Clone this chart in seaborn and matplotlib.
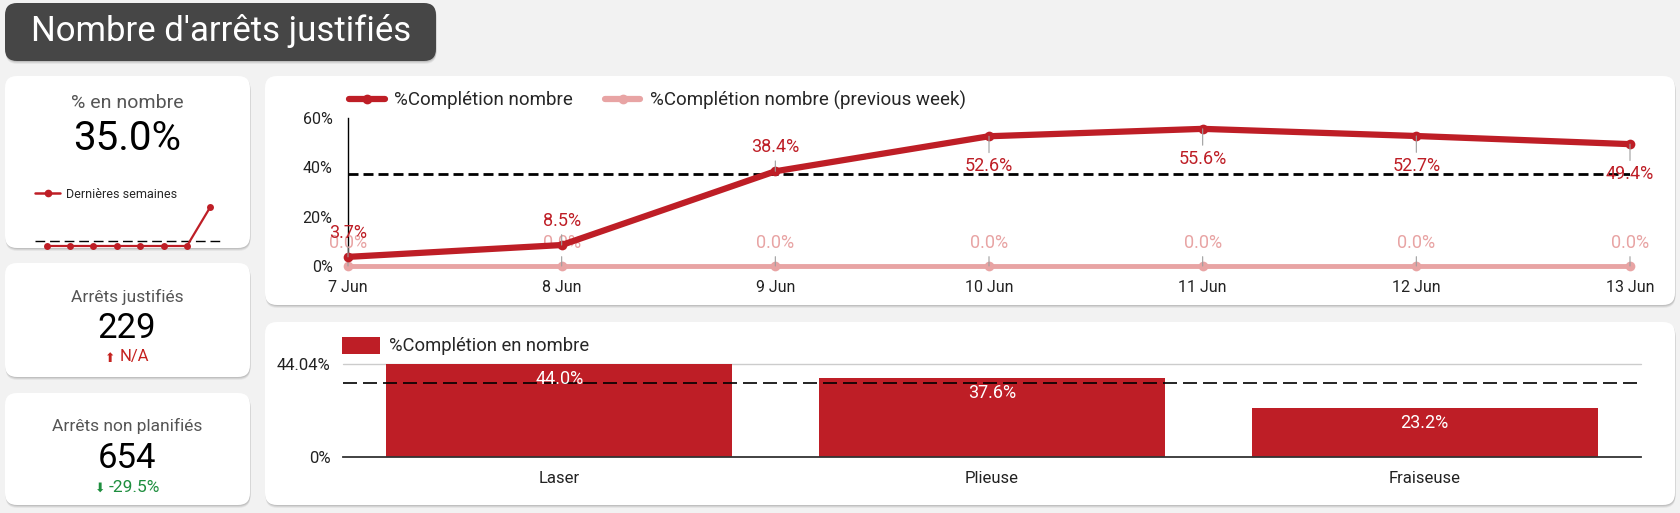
import numpy as np
import seaborn as sns
import matplotlib.pyplot as plt
from matplotlib.patches import FancyBboxPatch, Patch
from matplotlib.lines import Line2D

# Data
days = ['7 Jun', '8 Jun', '9 Jun', '10 Jun', '11 Jun', '12 Jun', '13 Jun']
completion = [3.7, 8.5, 38.4, 52.6, 55.6, 52.7, 49.4]
completion_prev = [0.0, 0.0, 0.0, 0.0, 0.0, 0.0, 0.0]

machines = ['Laser', 'Plieuse', 'Fraiseuse']
machine_completion = [44.04, 37.6, 23.2]

spark_values = [0.0, 0.0, 0.0, 0.0, 0.0, 0.0, 0.0, 35.0]

pct_nombre = 35.0
arrets_justifies = 229
arrets_non_planifies = 654
delta_non_planifies = -29.5

RED = '#be1e26'
PINK = '#e8a4a4'
W, H = 1680, 513

sns.set_theme(style='white')
plt.rcParams['font.family'] = ['Roboto', 'DejaVu Sans']


def fr(x0, y0, x1, y1):
    # pixel box (top-down) -> figure fraction rect
    return [x0 / W, 1 - y1 / H, (x1 - x0) / W, (y1 - y0) / H]


fig = plt.figure(figsize=(W / 100, H / 100), dpi=100, facecolor='#f2f2f2')

bg = fig.add_axes([0, 0, 1, 1], zorder=0)
bg.set_xlim(0, W)
bg.set_ylim(H, 0)
bg.axis('off')


def card(x0, y0, x1, y1, fc='white', r=12, shadow=True):
    if shadow:
        for dy, a in [(3, 0.05), (2, 0.07), (1, 0.09)]:
            bg.add_patch(FancyBboxPatch((x0 + 0.5, y0 + dy), x1 - x0, y1 - y0,
                                        boxstyle=f'round,pad=0,rounding_size={r}',
                                        fc='black', ec='none', alpha=a))
    bg.add_patch(FancyBboxPatch((x0, y0), x1 - x0, y1 - y0,
                                boxstyle=f'round,pad=0,rounding_size={r}',
                                fc=fc, ec='none'))


# Title
card(5, 3, 436, 61, fc='#464646', r=12)
bg.text(221, 31, "Nombre d'arrêts justifiés", color='white', fontsize=25,
        ha='center', va='center')

# KPI cards
card(5, 76, 250, 248)
card(5, 263, 250, 377)
card(5, 393, 250, 505)
card(265, 76, 1675, 305)
card(265, 322, 1675, 505)

bg.text(127, 103, '% en nombre', color='#555555', fontsize=14, ha='center', va='center')
bg.text(127, 138, f'{pct_nombre:.1f}%', color='black', fontsize=29, ha='center', va='center')

bg.text(127, 297, 'Arrêts justifiés', color='#555555', fontsize=12.5, ha='center', va='center')
bg.text(127, 328, f'{arrets_justifies}', color='black', fontsize=25, ha='center', va='center')
bg.text(110, 358, '⬆', color='#c5221f', fontsize=9, ha='center', va='center', family='DejaVu Sans')
bg.text(120, 357, 'N/A', color='#c5221f', fontsize=12, ha='left', va='center')

bg.text(127, 426, 'Arrêts non planifiés', color='#555555', fontsize=12.5, ha='center', va='center')
bg.text(127, 458, f'{arrets_non_planifies}', color='black', fontsize=25, ha='center', va='center')
bg.text(100, 488, '⬇', color='#1e8e3e', fontsize=9, ha='center', va='center', family='DejaVu Sans')
bg.text(109, 487, f'{delta_non_planifies:.1f}%', color='#1e8e3e', fontsize=12.5, ha='left', va='center')

# Sparkline in first card
ax3 = fig.add_axes(fr(35, 207, 222, 246), zorder=2)
ax3.patch.set_alpha(0)
sns.lineplot(x=np.arange(len(spark_values)), y=spark_values, ax=ax3, color=RED, lw=1.6,
             marker='o', markersize=5, markeredgewidth=0, clip_on=False)
ax3.axhline(np.mean(spark_values), color='black', lw=1, ls=(0, (7, 3.5)), zorder=1)
ax3.set_xlim(-0.5, len(spark_values) - 0.5)
ax3.set_ylim(0, max(spark_values))
ax3.axis('off')
ax3.legend(handles=[Line2D([], [], color=RED, lw=1.8, marker='o', markersize=4.5)],
           labels=['Dernières semaines'], loc='center left',
           bbox_to_anchor=(35 / W, 1 - 194 / H), bbox_transform=fig.transFigure,
           fontsize=9, handlelength=2.0, handletextpad=0.5, frameon=False,
           borderpad=0, borderaxespad=0)

# Line chart
ax1 = fig.add_axes(fr(348, 118, 1630, 266), zorder=2)
ax1.patch.set_alpha(0)
x = np.arange(len(days))
sns.lineplot(x=x, y=completion_prev, ax=ax1, color=PINK, lw=3.5, marker='o',
             markersize=7, markeredgewidth=0, clip_on=False, zorder=3)
sns.lineplot(x=x, y=completion, ax=ax1, color=RED, lw=4.5, marker='o',
             markersize=7, markeredgewidth=0, clip_on=False, zorder=4)
ax1.axhline(np.mean(completion), color='black', lw=2, ls=(0, (3.6, 1.8)), zorder=2)
ax1.set_xlim(0, len(days) - 1)
ax1.set_ylim(0, 60)
ax1.set_yticks([0, 20, 40, 60], [f'{v}%' for v in [0, 20, 40, 60]])
ax1.set_xticks(x, days)
ax1.tick_params(axis='both', length=0, labelsize=11.5, labelcolor='#222222')
ax1.tick_params(axis='x', pad=10)
ax1.tick_params(axis='y', pad=11)
for s in ['top', 'right', 'bottom']:
    ax1.spines[s].set_visible(False)
ax1.spines['left'].set_color('black')
ax1.spines['left'].set_linewidth(1)
ax1.set_xlabel('')
ax1.set_ylabel('')

label_offsets = [24, 24, 24, -30, -30, -30, -30]
for i, v in enumerate(completion):
    ax1.annotate(f'{v:.1f}%', (i, v), xytext=(0, label_offsets[i]), textcoords='offset pixels',
                 ha='center', va='center', color=RED, fontsize=13, annotation_clip=False,
                 arrowprops=dict(arrowstyle='-', color='#9e9e9e', lw=0.8, shrinkA=1, shrinkB=0),
                 zorder=5)
for i, v in enumerate(completion_prev):
    ax1.annotate(f'{v:.1f}%', (i, v), xytext=(0, 23), textcoords='offset pixels',
                 ha='center', va='center', color=PINK, fontsize=13, annotation_clip=False,
                 arrowprops=dict(arrowstyle='-', color='#9e9e9e', lw=0.8, shrinkA=1, shrinkB=0),
                 zorder=3)

ax1.legend(handles=[Line2D([], [], color=RED, lw=4.5, marker='o', markersize=6),
                    Line2D([], [], color=PINK, lw=4.5, marker='o', markersize=6)],
           labels=['%Complétion nombre', '%Complétion nombre (previous week)'],
           loc='center left', bbox_to_anchor=(349 / W, 1 - 100 / H),
           bbox_transform=fig.transFigure, ncol=2, fontsize=13.5, frameon=False,
           handlelength=1.9, handletextpad=0.5, columnspacing=1.7,
           borderpad=0, borderaxespad=0)

# Bar chart
ax2 = fig.add_axes(fr(343, 364, 1641, 457), zorder=2)
ax2.patch.set_alpha(0)
sns.barplot(x=machines, y=machine_completion, ax=ax2, color=RED, saturation=1,
            width=0.8, linewidth=0, zorder=2)
top = max(machine_completion)
ax2.axhline(top, color='#cccccc', lw=1, zorder=0, clip_on=False)
ax2.axhline(np.mean(machine_completion), color='black', lw=1.2, ls=(0, (8.4, 3.6)), zorder=3)
ax2.set_xlim(-0.5, len(machines) - 0.5)
ax2.set_ylim(0, top)
ax2.set_yticks([0, top], ['0%', f'{top:.2f}%'])
ax2.tick_params(axis='both', length=0, labelsize=12, labelcolor='#222222')
ax2.tick_params(axis='x', pad=10)
ax2.tick_params(axis='y', pad=9)
for s in ['top', 'right', 'left']:
    ax2.spines[s].set_visible(False)
ax2.spines['bottom'].set_color('#333333')
ax2.spines['bottom'].set_linewidth(1.3)
ax2.set_xlabel('')
ax2.set_ylabel('')
for i, v in enumerate(machine_completion):
    ax2.annotate(f'{v:.1f}%', (i, v), xytext=(0, -15), textcoords='offset pixels',
                 ha='center', va='center', color='white', fontsize=13, zorder=4)

ax2.legend(handles=[Patch(fc=RED, ec='none')], labels=['%Complétion en nombre'],
           loc='center left', bbox_to_anchor=(342 / W, 1 - 346 / H),
           bbox_transform=fig.transFigure, fontsize=13.2, frameon=False,
           handlelength=2.05, handleheight=1.05, handletextpad=0.5,
           borderpad=0, borderaxespad=0)

fig.savefig('out.png', dpi=100, facecolor=fig.get_facecolor())
